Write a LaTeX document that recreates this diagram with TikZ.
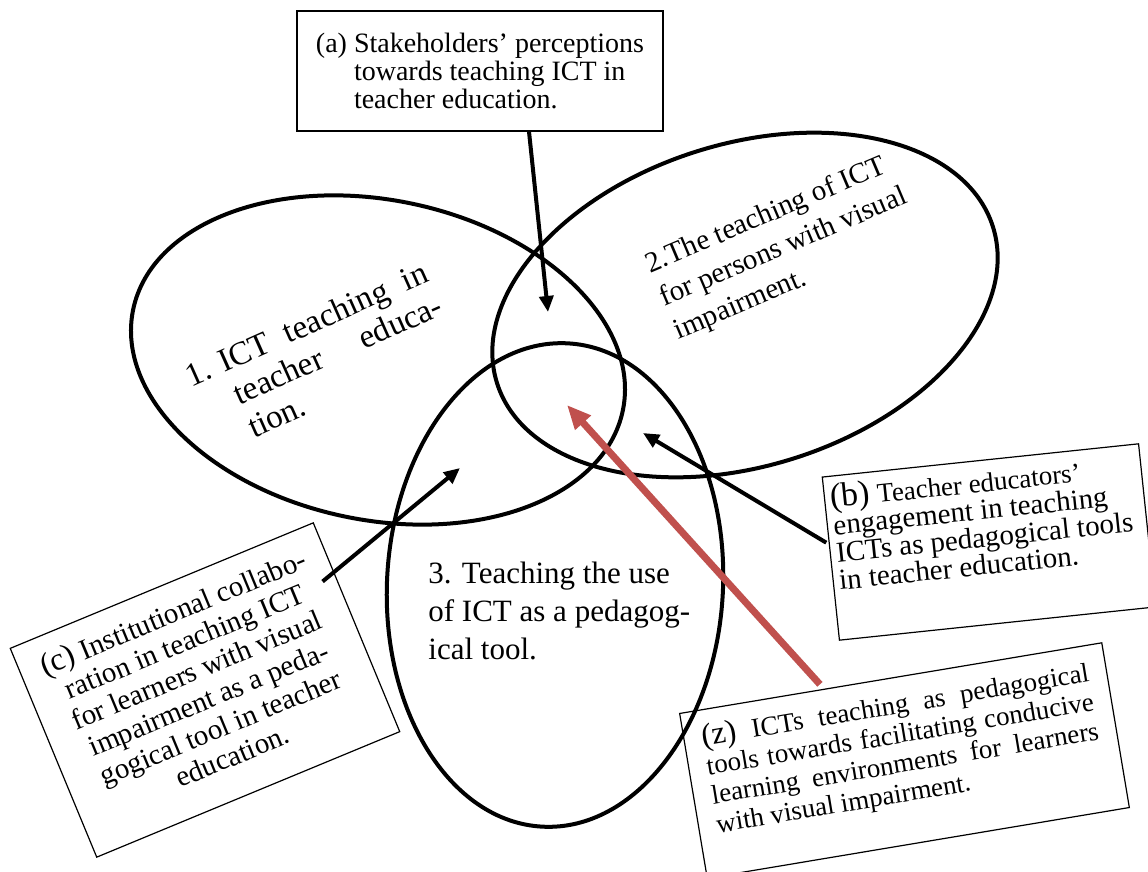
\documentclass[tikz,border=0pt]{standalone}
\usepackage{fontspec}
\setmainfont{Liberation Serif}
\usetikzlibrary{shapes.geometric,arrows.meta}
\definecolor{zred}{HTML}{C0504D}
\begin{document}
\begin{tikzpicture}[x=0.5pt,y=-0.5pt,
  venn/.style={ellipse, draw, line width=2pt, inner sep=0pt},
  lbl/.style={inner sep=0pt, anchor=north west, align=left},
  tbox/.style={draw, line width=0.6pt, inner sep=0pt},
  arr/.style={line width=2pt, -{Triangle[length=8pt,width=7pt]}},
  redarr/.style={line width=3.5pt, draw=zred, -{Triangle[length=12pt,width=10pt]}}]
\fill[white] (0,0) rectangle (1148,872);
\useasboundingbox (0,0) rectangle (1148,872);

% three ellipses
\node[venn, minimum width=250pt, minimum height=160pt, rotate=-11.6] (e1) at (378,360) {};
\node[venn, minimum width=260pt, minimum height=161pt, rotate=17.5] (e2) at (745,305) {};
\node[venn, minimum width=168pt, minimum height=242pt, rotate=-3] (e3) at (555,585) {};

% ellipse labels
\node[lbl, rotate=24, font=\fontsize{16.5pt}{18pt}\selectfont] (l1) at (182,366)
  {\makebox[18pt][l]{1.}\makebox[112.5pt][s]{ICT teaching in}\\
   \hspace*{18pt}\makebox[112.5pt][s]{teacher educa-}\\
   \hspace*{18pt}tion.};
\node[lbl, rotate=23, font=\fontsize{14.5pt}{18pt}\selectfont] (l2) at (642,254)
  {2.The teaching of ICT\\for persons with visual\\impairment.};
\node[lbl, font=\fontsize{15.5pt}{19pt}\selectfont] (l3) at (428,562)
  {3. Teaching the use\\of ICT as a pedagog-\\ical tool.};

% boxes
\node[tbox, minimum width=183pt, minimum height=60pt, align=left,
      font=\fontsize{14pt}{14pt}\selectfont] (boxa) at (480,71)
  {(a)\ Stakeholders’ perceptions\\
   \hphantom{(a)\ }towards teaching ICT in\\
   \hphantom{(a)\ }teacher education.};

\node[tbox, minimum width=159pt, minimum height=82pt, rotate=6,
      font=\fontsize{14.5pt}{13.75pt}\selectfont] (boxb) at (989,542)
  {\parbox[c][74pt][t]{153pt}{{\fontsize{17pt}{13.75pt}\selectfont(b)}
   {\fontsize{13.5pt}{13.75pt}\selectfont Teacher educators’}\\
   engagement in teaching\\
   ICTs as pedagogical tools\\
   in teacher education.}};

\node[tbox, minimum width=164pt, minimum height=113pt, rotate=22.5,
      font=\fontsize{14.5pt}{15.5pt}\selectfont] (boxc) at (205,690)
  {\parbox[c][96pt][t]{150pt}{\centering
   {\fontsize{16pt}{15.5pt}\selectfont(c)} Institutional collabo-\\
   ration in teaching ICT\\
   for learners with visual\\
   impairment as a peda-\\
   gogical tool in teacher\\
   education.}};

\node[tbox, minimum width=214pt, minimum height=83.5pt, rotate=9.5,
      font=\fontsize{13.5pt}{14.7pt}\selectfont] (boxz) at (904.5,760.5)
  {\parbox[c][69.5pt][t]{196pt}{%
   \makebox[196pt][s]{{\fontsize{16pt}{14.7pt}\selectfont(z)} ICTs teaching as pedagogical}\\
   \makebox[196pt][s]{tools towards facilitating conducive}\\
   \makebox[196pt][s]{learning environments for learners}\\
   with visual impairment.}};

% arrow targets
\coordinate (ta) at (548,312);
\coordinate (tb) at (643,433);
\coordinate (tc) at (460,468);
\coordinate (tz) at (567,405);

% arrows
\draw[arr] ([xshift=24.5pt]boxa.south) -- (ta);
\draw[arr] ([xshift=-2pt,yshift=8pt]boxb.west) -- (tb);
\draw[arr] ([xshift=-17.25pt,yshift=22.75pt]boxc.east) -- (tc);
\draw[redarr] ([xshift=-35.35pt,yshift=-3.4pt]boxz.north) -- (tz);
\end{tikzpicture}
\end{document}
